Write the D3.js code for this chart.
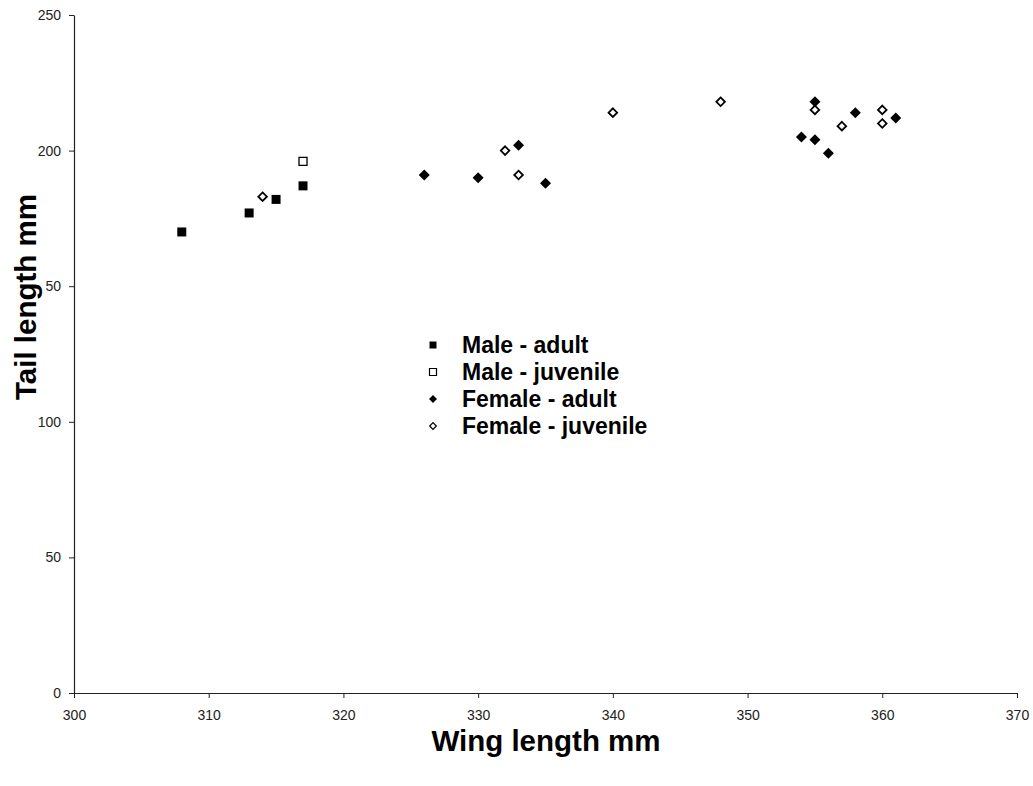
<!DOCTYPE html>
<html lang="en">
	<head>
		<meta charset="utf-8">
		<title>Wing and tail length</title>
		<script src="https://cdn.jsdelivr.net/npm/d3@7"></script>
		<style>
			body { margin: 0; background: #fff; }
			svg { display: block; font-family: "Liberation Sans", Arial, sans-serif; }
		</style>
	</head>
	<body>
		<div id="chart"></div>
		<script type="text/javascript">

		// [wing length, tail length] pairs
		var maleAdult = [[308, 170], [313, 177], [315, 182], [317, 187]];
		var maleJuvenile = [[317, 196]];
		var femaleAdult = [[326, 191], [330, 190], [333, 202], [335, 188], [354, 205],
			[355, 218], [355, 204], [356, 199], [358, 214], [361, 212]];
		var femaleJuvenile = [[314, 183], [332, 200], [333, 191], [340, 214], [348, 218],
			[355, 215], [357, 209], [360, 215], [360, 210]];

		var xTicks = [300, 310, 320, 330, 340, 350, 360, 370];
		var yTicks = [0, 50, 100, 150, 200, 250];
		var yTickLabels = ["0", "50", "100", "50", "200", "250"];
		var seriesNames = ["Male - adult", "Male - juvenile", "Female - adult", "Female - juvenile"];

		var w = 1033;
		var h = 786;

		var x = d3.scaleLinear().domain([300, 370]).range([74, 1017]);
		var y = d3.scaleLinear().domain([0, 250]).range([693, 15]);

		var svg = d3.select("#chart")
			.append("svg")
			.attr("width", w)
			.attr("height", h);

		// axes
		var xAxis = d3.axisBottom(x)
			.tickValues(xTicks)
			.tickSize(5)
			.tickSizeOuter(0);

		var yAxis = d3.axisLeft(y)
			.tickValues(yTicks)
			.tickSize(5)
			.tickSizeOuter(0)
			.tickFormat(function(d, i) { return yTickLabels[i]; });

		var gx = svg.append("g")
			.attr("transform", "translate(0," + y(0) + ")")
			.call(xAxis);

		var gy = svg.append("g")
			.attr("transform", "translate(" + x(300) + ",0)")
			.call(yAxis);

		[gx, gy].forEach(function(g) {
			g.select(".domain").attr("stroke", "#222").attr("stroke-width", 1.2);
			g.selectAll(".tick line").attr("stroke", "#222");
			g.selectAll(".tick text")
				.attr("fill", "#222")
				.style("font-size", "14px")
				.style("font-family", "Liberation Sans, Arial, sans-serif");
		});
		gx.selectAll(".tick text").attr("y", 17);
		gy.selectAll(".tick text").attr("x", -13);

		// marker shapes
		function square(s) {
			return "M" + (-s) + "," + (-s) + "H" + s + "V" + s + "H" + (-s) + "Z";
		}
		function diamond(s) {
			return "M0," + (-s) + "L" + s + ",0L0," + s + "L" + (-s) + ",0Z";
		}

		var styles = [
			{ data: maleAdult, path: square(4.5), legend: square(3.5), fill: "#000", stroke: "none", sw: 0 },
			{ data: maleJuvenile, path: square(4), legend: square(3.5), fill: "#fff", stroke: "#000", sw: 1.3 },
			{ data: femaleAdult, path: diamond(5.5), legend: diamond(4), fill: "#000", stroke: "none", sw: 0 },
			{ data: femaleJuvenile, path: diamond(4.3), legend: diamond(3.3), fill: "#fff", stroke: "#000", sw: 1.8 }
		];

		styles.forEach(function(s) {
			svg.append("g")
				.selectAll("path")
				.data(s.data)
				.enter()
				.append("path")
				.attr("d", s.path)
				.attr("transform", function(d) { return "translate(" + x(d[0]) + "," + y(d[1]) + ")"; })
				.attr("fill", s.fill)
				.attr("stroke", s.stroke)
				.attr("stroke-width", s.sw);
		});

		// legend
		var legend = svg.append("g").attr("transform", "translate(433,345)");
		var rows = legend.selectAll("g")
			.data(seriesNames)
			.enter()
			.append("g")
			.attr("transform", function(d, i) { return "translate(0," + (i * 27) + ")"; });

		rows.append("path")
			.attr("d", function(d, i) { return styles[i].legend; })
			.attr("fill", function(d, i) { return styles[i].fill; })
			.attr("stroke", function(d, i) { return styles[i].stroke; })
			.attr("stroke-width", function(d, i) { return styles[i].sw ? 1.2 : 0; });

		rows.append("text")
			.attr("x", 29)
			.attr("y", 7.5)
			.style("font-size", "23px")
			.style("font-weight", "bold")
			.text(function(d) { return d; });

		// axis titles
		svg.append("text")
			.attr("x", 546)
			.attr("y", 751)
			.attr("text-anchor", "middle")
			.style("font-size", "29.5px")
			.style("font-weight", "bold")
			.text("Wing length mm");

		svg.append("text")
			.attr("transform", "translate(36,297) rotate(-90)")
			.attr("text-anchor", "middle")
			.style("font-size", "29.5px")
			.style("font-weight", "bold")
			.text("Tail length mm");
		</script>
	</body>
</html>
